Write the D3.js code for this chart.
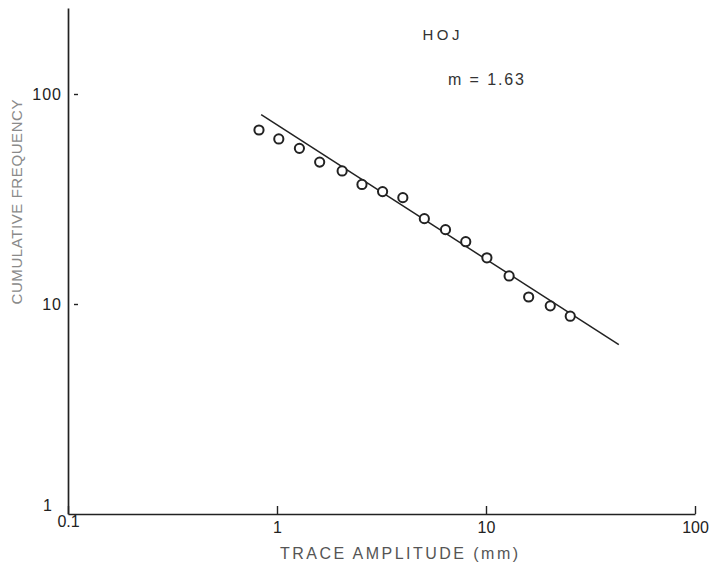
<!DOCTYPE html>
<html>
<head>
<meta charset="utf-8">
<script src="https://cdn.jsdelivr.net/npm/d3@7"></script>
<style>
  html, body { margin: 0; padding: 0; background: #fff; }
  svg { display: block; font-family: "Liberation Sans", Arial, sans-serif; }
</style>
</head>
<body>
<svg id="chart" width="712" height="568"></svg>
<script>
// ---- data ----
const amplitude = [0.82, 1.02, 1.28, 1.6, 2.05, 2.55, 3.2, 4.0, 5.07, 6.4, 8.0, 10.1, 12.9, 16.0, 20.3, 25.3];
const cumFreq   = [67.4, 61.1, 55.1, 47.4, 43.0, 37.1, 34.3, 32.1, 25.5, 22.6, 19.8, 16.6, 13.6, 10.8, 9.8, 8.75];
const fitX = [0.84, 43.2];
const fitY = [79.7, 6.4];
const xTicks = [0.1, 1, 10, 100];
const xTickLabels = ["0.1", "1", "10", "100"];
const yTicks = [1, 10, 100];
const yTickLabels = ["1", "10", "100"];
const xTitle = "TRACE AMPLITUDE (mm)";
const yTitle = "CUMULATIVE FREQUENCY";
const station = "HOJ";
const slopeLabel = "m = 1.63";

const svg = d3.select("#chart");
const x0 = 68, x1 = 695, yBottom = 514, yTop = 8;
const x = d3.scaleLog().domain([0.1, 100]).range([x0, x1]);
const yMax = Math.pow(10, (yBottom - yTop) / 210);
const y = d3.scaleLog().domain([1, yMax]).range([yBottom, yTop]);

const ink = "#222";

// x axis
const xAxis = d3.axisBottom(x)
  .tickValues(xTicks)
  .tickFormat((d, i) => xTickLabels[i])
  .tickSizeInner(-8).tickSizeOuter(0).tickPadding(8);
const gx = svg.append("g").attr("transform", `translate(0,${yBottom})`).call(xAxis);
gx.select(".domain").attr("stroke", ink).attr("stroke-width", 1.4);
gx.selectAll(".tick line").attr("stroke", ink).attr("stroke-width", 1.4);
gx.selectAll(".tick text").attr("fill", ink).style("font-size", "16px")
  .style("font-family", "'Liberation Sans', Arial, sans-serif");
gx.selectAll(".tick").filter(d => d === 0.1).select("text").attr("y", 2);

// y axis
const yAxis = d3.axisLeft(y)
  .tickValues(yTicks)
  .tickFormat((d, i) => yTickLabels[i])
  .tickSizeInner(0).tickSizeOuter(0).tickPadding(6);
const gy = svg.append("g").attr("transform", `translate(${x0},0)`).call(yAxis);
gy.select(".domain").attr("stroke", ink).attr("stroke-width", 1.7);
gy.selectAll(".tick text").attr("fill", ink).style("font-size", "16px")
  .attr("letter-spacing", "1")
  .style("font-family", "'Liberation Sans', Arial, sans-serif");
// small dashes just inside the axis
gy.selectAll(".tick").filter(d => d !== 1).append("line")
  .attr("x1", 6).attr("x2", 10).attr("y1", 0).attr("y2", 0)
  .attr("stroke", ink).attr("stroke-width", 1.4);
gy.selectAll(".tick").filter(d => d === 1).select("text")
  .attr("x", -15).attr("dy", "-0.2em");

// fitted line
const line = d3.line().x(d => x(d[0])).y(d => y(d[1]));
svg.append("path")
  .datum(fitX.map((v, i) => [v, fitY[i]]))
  .attr("d", line)
  .attr("fill", "none").attr("stroke", ink).attr("stroke-width", 1.5);

// data points
svg.append("g").selectAll("circle")
  .data(amplitude.map((v, i) => [v, cumFreq[i]]))
  .join("circle")
  .attr("cx", d => x(d[0])).attr("cy", d => y(d[1]))
  .attr("r", 4.6)
  .attr("fill", "#fff").attr("stroke", ink).attr("stroke-width", 2);

// titles
svg.append("text")
  .attr("x", 399).attr("y", 559)
  .attr("text-anchor", "middle")
  .attr("textLength", 238).attr("lengthAdjust", "spacing")
  .attr("fill", "#555").style("font-size", "16px")
  .text(xTitle);

svg.append("text")
  .attr("transform", "translate(22,202) rotate(-90)")
  .attr("text-anchor", "middle")
  .attr("textLength", 205).attr("lengthAdjust", "spacing")
  .attr("fill", "#8a8a8a").style("font-size", "15px")
  .text(yTitle);

svg.append("text")
  .attr("x", 441).attr("y", 40)
  .attr("text-anchor", "middle")
  .attr("textLength", 37).attr("lengthAdjust", "spacing")
  .attr("fill", "#333").style("font-size", "15px")
  .text(station);

svg.append("text")
  .attr("x", 486).attr("y", 85)
  .attr("text-anchor", "middle")
  .attr("textLength", 76).attr("lengthAdjust", "spacing")
  .attr("fill", "#333").style("font-size", "16px")
  .text(slopeLabel);
</script>
</body>
</html>
